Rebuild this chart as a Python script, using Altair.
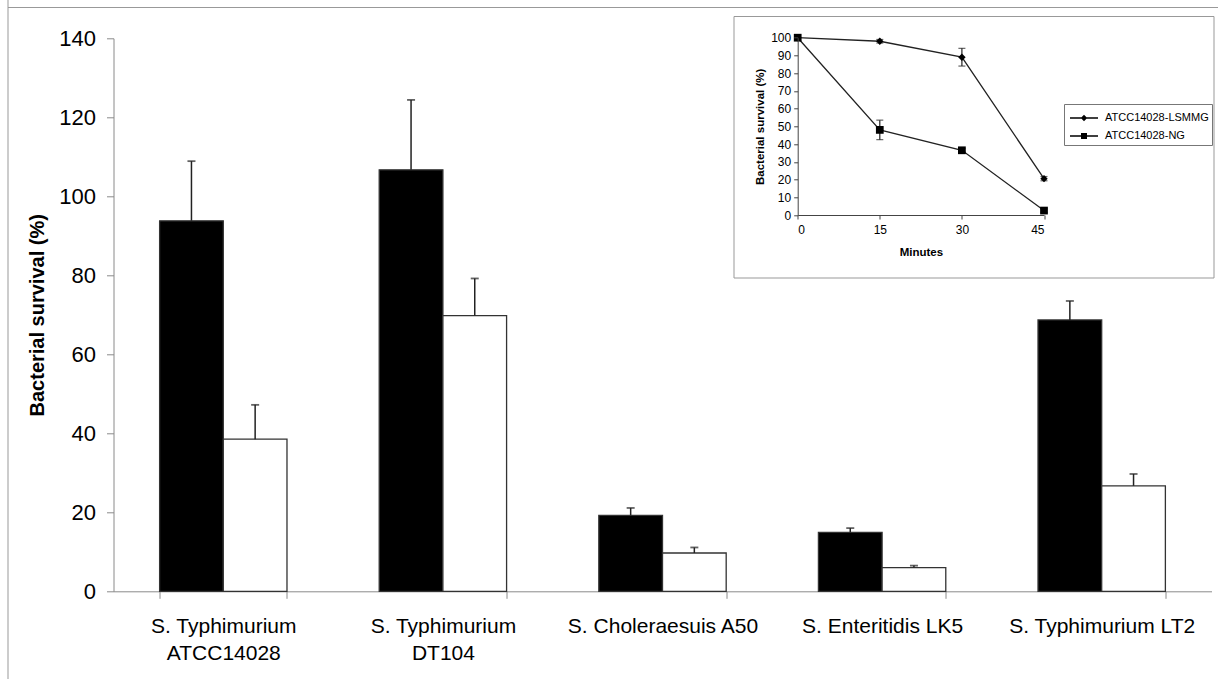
import altair as alt
import pandas as pd

# ---------------- main chart data ----------------
strains = ["S. Typhimurium|ATCC14028", "S. Typhimurium|DT104", "S. Choleraesuis A50",
           "S. Enteritidis LK5", "S. Typhimurium LT2"]
groups = ["LSMMG", "NG"]
lsmmg_vals = [93.8, 106.7, 19.2, 14.9, 68.7]
lsmmg_err = [15.1, 17.7, 1.9, 1.1, 4.8]
ng_vals = [38.5, 69.8, 9.7, 6.0, 26.7]
ng_err = [8.7, 9.4, 1.4, 0.5, 3.0]
y_ticks = [0, 20, 40, 60, 80, 100, 120, 140]

# ---------------- inset data ----------------
minutes = [0, 15, 30, 45]
inset_series = ["ATCC14028-LSMMG", "ATCC14028-NG"]
inset_lsmmg = [100, 98, 89, 20.5]
inset_lsmmg_err = [0, 1, 5, 1.2]
inset_ng = [100, 48, 36.5, 2.5]
inset_ng_err = [0, 5.5, 1, 1]
inset_y_ticks = [0, 10, 20, 30, 40, 50, 60, 70, 80, 90, 100]

rows = []
for i, s in enumerate(strains):
    rows.append(dict(strain=s, group="LSMMG", value=lsmmg_vals[i], upper=lsmmg_vals[i] + lsmmg_err[i]))
    rows.append(dict(strain=s, group="NG", value=ng_vals[i], upper=ng_vals[i] + ng_err[i]))
main_df = pd.DataFrame(rows)

irows = []
for i, m in enumerate(minutes):
    irows.append(dict(minutes=m, series=inset_series[0], value=inset_lsmmg[i],
                      lo=inset_lsmmg[i] - inset_lsmmg_err[i], hi=inset_lsmmg[i] + inset_lsmmg_err[i],
                      err=inset_lsmmg_err[i]))
    irows.append(dict(minutes=m, series=inset_series[1], value=inset_ng[i],
                      lo=inset_ng[i] - inset_ng_err[i], hi=inset_ng[i] + inset_ng_err[i],
                      err=inset_ng_err[i]))
inset_df = pd.DataFrame(irows)

one = pd.DataFrame({"k": [0]})

W, H = 1098, 553
AX = "#8a8a8a"

x_main = alt.X("strain:N", sort=strains,
               scale=alt.Scale(paddingInner=0.42, paddingOuter=0.21),
               axis=alt.Axis(orient="bottom", title=None, labelAngle=0,
                             labelExpr="split(datum.label, '|')", labelLimit=400,
                             labelFontSize=21, labelLineHeight=27, labelPadding=17,
                             tickBand="extent", tickSize=7, tickColor=AX, domainColor=AX,
                             labelColor="black"))
xoff = alt.XOffset("group:N", sort=groups, scale=alt.Scale(paddingInner=0, paddingOuter=0))


def y_main(field):
    return alt.Y(field, scale=alt.Scale(domain=[0, 140], nice=False),
                 axis=alt.Axis(orient="left", values=y_ticks, title="Bacterial survival (%)",
                               titleFontSize=20, titleFontWeight="bold", titlePadding=11,
                               grid=False, tickSize=7, tickColor=AX, domainColor=AX,
                               labelFontSize=22, labelPadding=11, labelColor="black"))


bars = alt.Chart(main_df).mark_bar(stroke="#333", strokeWidth=1.3).encode(
    x=x_main, xOffset=xoff, y=y_main("value:Q"),
    fill=alt.Fill("group:N", scale=alt.Scale(domain=groups, range=["black", "white"]), legend=None))
err_rule = alt.Chart(main_df).mark_rule(color="#222", strokeWidth=1.5).encode(
    x=x_main, xOffset=xoff, y=y_main("value:Q"), y2="upper:Q")
err_cap = alt.Chart(main_df).mark_tick(color="#222", thickness=1.8, size=8, orient="horizontal").encode(
    x=x_main, xOffset=xoff, y=y_main("upper:Q"))
main_layer = alt.layer(bars, err_rule, err_cap)

# ---------------- inset ----------------
IX0, IX1 = 684.2, 930.5
IY0, IY1 = 176.7, -0.6
x_in = alt.X("minutes:Q", scale=alt.Scale(domain=[0, 45], range=[IX0, IX1], nice=False, zero=False),
             axis=alt.Axis(orient="bottom", offset=IY0 - H, values=minutes, title="Minutes",
                           titleFontSize=11.5, titleFontWeight="bold", titlePadding=11,
                           labelFontSize=12, tickSize=4, labelPadding=5, grid=False, zindex=2,
                           domainColor="#444", tickColor="#444", labelColor="black"))


def y_in(field):
    return alt.Y(field, scale=alt.Scale(domain=[0, 100], range=[IY0, IY1], nice=False),
                 axis=alt.Axis(orient="left", offset=-IX0, values=inset_y_ticks,
                               title="Bacterial survival (%)", titleFontSize=11.5,
                               titleFontWeight="bold", titlePadding=5, zindex=2,
                               labelFontSize=12, tickSize=4, labelPadding=3, grid=False,
                               domainColor="#444", tickColor="#444", labelColor="black"))


inset_frame = alt.Chart(one).mark_rect(fill="white", stroke="#999", strokeWidth=1).encode(
    x=alt.value(620.5), x2=alt.value(1100.5), y=alt.value(-21.8), y2=alt.value(239.7))

in_line = alt.Chart(inset_df).mark_line(color="#222", strokeWidth=1.3).encode(
    x=x_in, y=y_in("value:Q"), detail="series:N")
in_err = alt.Chart(inset_df).transform_filter("datum.err > 0").mark_rule(color="#222", strokeWidth=1.2).encode(
    x=x_in, y=y_in("lo:Q"), y2="hi:Q")
in_cap_hi = alt.Chart(inset_df).transform_filter("datum.err > 0").mark_tick(
    color="#222", thickness=1.2, size=7, orient="horizontal").encode(x=x_in, y=y_in("hi:Q"))
in_cap_lo = alt.Chart(inset_df).transform_filter("datum.err > 0").mark_tick(
    color="#222", thickness=1.2, size=7, orient="horizontal").encode(x=x_in, y=y_in("lo:Q"))
in_pts_d = alt.Chart(inset_df).transform_filter(alt.datum.series == inset_series[0]).mark_point(
    shape="diamond", filled=True, color="black", size=55, opacity=1).encode(x=x_in, y=y_in("value:Q"))
in_pts_s = alt.Chart(inset_df).transform_filter(alt.datum.series == inset_series[1]).mark_point(
    shape="square", filled=True, color="black", size=60, opacity=1).encode(x=x_in, y=y_in("value:Q"))

path_d = "M-1.4,-0.07H1.4V0.07H-1.4ZM0,-0.32L0.32,0L0,0.32L-0.32,0Z"
path_s = "M-1.4,-0.07H1.4V0.07H-1.4ZM-0.3,-0.3H0.3V0.3H-0.3Z"
in_legend = alt.Chart(inset_df).transform_filter("false").mark_point(
    filled=True, color="black", size=400, opacity=1).encode(
    x=x_in, y=y_in("value:Q"),
    shape=alt.Shape("series:N", scale=alt.Scale(domain=inset_series, range=[path_d, path_s]),
                    legend=alt.Legend(orient="none", legendX=950.5, legendY=65.7, title=None,
                                      symbolSize=400, symbolFillColor="black",
                                      symbolOffset=6, labelOffset=10, labelFontSize=11,
                                      labelColor="black", padding=3, rowPadding=0,
                                      strokeColor="#777", fillColor="white", zindex=3)))

inset_layer = alt.layer(in_line, in_err, in_cap_hi, in_cap_lo, in_pts_d, in_pts_s, in_legend)

# ---------------- outer frame ----------------
left_line = alt.Chart(one).mark_rule(color="#999", strokeWidth=1).encode(
    x=alt.value(-105.5), y=alt.value(-38.3), y2=alt.value(640.7))
top_line = alt.Chart(one).mark_rule(color="#999", strokeWidth=1).encode(
    y=alt.value(-30.8), x=alt.value(-105.5), x2=alt.value(1104.5))

chart = alt.layer(left_line, top_line, main_layer, inset_frame, inset_layer).resolve_scale(
    x="independent", y="independent"
).properties(
    width=W, height=H,
    padding={"left": 113.5, "top": 38.3, "right": 6.5, "bottom": 87.7},
    autosize=alt.AutoSizeParams(type="none"),
).configure(font="Liberation Sans").configure_view(stroke=None)

chart.save("out.html", embed_options={"renderer": "svg", "actions": False})
